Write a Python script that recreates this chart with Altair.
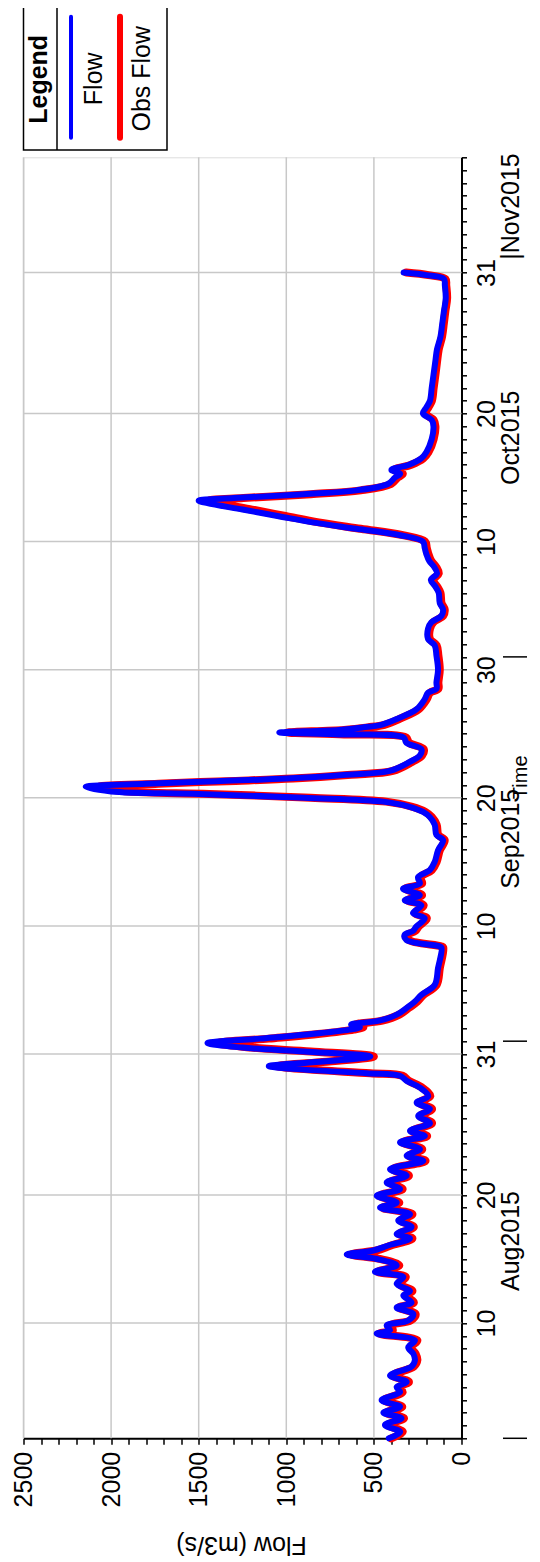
import altair as alt
import pandas as pd

START = "2015-08-01"

# days since 2015-08-01 00:00
days = [0.0, 0.5, 1.04, 1.56, 2.0, 2.46, 2.98, 3.6, 4.0, 4.4, 4.9, 5.6, 6.1, 6.6, 7.1, 7.65,
        8.17, 8.43, 8.8, 9.2, 9.7, 10.2, 10.6, 11.15, 11.5, 12.06, 12.6, 13.0, 13.5, 14.0,
        14.35, 14.66, 15.05, 15.6, 15.95, 16.5, 17.0, 17.5, 18.0, 18.4, 18.94, 19.45, 19.97,
        20.5, 21.0, 21.66, 22.05, 22.57, 23.1, 23.6, 24.0, 24.6, 25.16, 25.7, 26.2, 26.7,
        27.37, 27.9, 28.3, 28.5, 28.8, 29.05, 29.35, 29.8, 30.2, 30.5, 30.85, 31.2, 31.5,
        31.9, 32.1, 32.3, 32.6, 33.07, 33.6, 34.1, 34.6, 35.4, 36.7, 38.3, 38.4, 38.9, 39.3,
        39.6, 39.95, 40.6, 41.0, 41.6, 42.0, 42.4, 42.9, 43.3, 43.8, 44.35, 45.0, 45.9, 46.7,
        47.1, 47.9, 48.5, 48.9, 49.3, 49.7, 50.0, 50.3, 50.5, 50.85, 51.1, 51.3, 51.5, 51.8,
        52.1, 52.8, 53.3, 53.8, 54.3, 54.7, 54.95, 55.1, 55.3, 55.5, 55.7, 56.2, 56.9, 57.7,
        58.2, 58.5, 59.0, 60.0, 61.1, 61.9, 62.4, 63.2, 63.7, 64.2, 64.7, 65.2, 66.0, 66.5,
        67.0, 67.5, 68.0, 68.5, 69.0, 69.5, 70.0, 70.5, 71.0, 71.5, 72.0, 72.5, 73.0, 73.2,
        73.4, 73.7, 74.0, 74.5, 75.0, 75.3, 75.6, 76.0, 76.5, 77.0, 78.0, 79.0, 79.5, 80.0,
        80.5, 81.0, 82.0, 83.0, 84.0, 85.0, 86.0, 87.0, 88.0, 89.0, 90.0, 90.5, 90.8, 91.0]

flow = [415, 350, 437, 342, 446, 351, 456, 351, 370, 313, 408, 285, 266, 275, 304, 266,
        484, 408, 427, 304, 275, 370, 285, 332, 294, 370, 332, 494, 370, 484,
        655, 503, 418, 294, 370, 285, 361, 294, 465, 370, 484, 351, 427,
        313, 408, 218, 313, 237, 351, 209, 294, 180, 247, 180, 256, 190,
        237, 313, 351, 541, 921, 1100, 850, 520, 900, 1250, 1450, 1150, 900,
        640, 580, 630, 470, 370, 313, 266, 230, 153, 134, 114, 126, 315, 325,
        277, 258, 210, 277, 229, 324, 238, 334, 238, 248, 181, 153, 134, 105,
        143, 153, 181, 219, 296, 448, 900, 1500, 2000, 2145, 1800, 1400, 1000, 658,
        410, 296, 238, 229, 315, 330, 700, 1040, 700, 560, 458, 362, 258, 210,
        191, 143, 143, 134, 143, 153, 191, 191, 172, 115, 105, 124, 130, 150,
        175, 140, 155, 185, 200, 210, 220, 350, 600, 850, 1050, 1250, 1450, 1500,
        1300, 900, 600, 420, 380, 350, 400, 300, 230, 200, 170, 160, 170, 220,
        200, 180, 170, 160, 150, 140, 120, 110, 100, 90, 95, 100, 200, 330]

obs_flow = [400, 335, 420, 328, 430, 338, 440, 336, 355, 300, 392, 272, 252, 262, 290, 252,
            468, 392, 410, 290, 262, 355, 272, 318, 280, 355, 318, 478, 355, 468,
            630, 486, 402, 280, 355, 272, 346, 280, 450, 355, 468, 336, 410,
            300, 392, 205, 300, 224, 336, 196, 280, 168, 234, 168, 242, 178,
            224, 300, 336, 520, 880, 1050, 810, 500, 860, 1200, 1390, 1100, 860,
            615, 560, 605, 452, 355, 300, 252, 218, 142, 124, 104, 115, 300, 310,
            264, 245, 198, 264, 216, 310, 225, 320, 225, 235, 170, 142, 124, 96,
            132, 142, 170, 206, 282, 430, 860, 1440, 1920, 2070, 1730, 1340, 960, 630,
            392, 282, 225, 216, 300, 315, 670, 995, 670, 535, 440, 347, 245, 198,
            180, 132, 132, 124, 132, 142, 180, 180, 161, 105, 96, 114, 120, 139,
            163, 130, 144, 173, 188, 198, 208, 335, 575, 815, 1005, 1195, 1390, 1440,
            1245, 860, 575, 402, 364, 335, 383, 287, 218, 188, 159, 149, 159, 207,
            188, 169, 159, 149, 140, 130, 111, 101, 92, 82, 87, 92, 188, 315]

series_names = ["Flow", "Obs Flow"]
series_colors = ["#0000ff", "#ff0000"]

flow_ticks = list(range(0, 2501, 100))
flow_grid = [500, 1000, 1500, 2000, 2500]
grid_dates = ["2015-08-10", "2015-08-20", "2015-08-31", "2015-09-10", "2015-09-20",
              "2015-09-30", "2015-10-10", "2015-10-20", "2015-10-31"]
month_starts = ["2015-08-01", "2015-09-01", "2015-10-01"]
month_labels = ["Aug2015", "Sep2015", "Oct2015"]
month_label_days = [15.4, 46.8, 78.1]
next_month_label = "|Nov2015"
next_month_start = "2015-11-01"

FONT = "Liberation Sans"
W, H = 438, 1281

t0 = pd.Timestamp(START)
times = t0 + pd.to_timedelta(days, unit="D")
df_flow = pd.DataFrame({"t": times, "d": days, "v": flow})
df_obs = pd.DataFrame({"t": times, "d": days, "v": obs_flow})

time_scale = alt.Scale(domain=[alt.DateTime(year=2015, month=8, date=1),
                               alt.DateTime(year=2015, month=11, date=9)], nice=False)
flow_scale = alt.Scale(domain=[0, 2500], reverse=True, nice=False)

tick_days = pd.date_range("2015-08-01", "2015-11-09", freq="D")
tick_values = [alt.DateTime(year=d.year, month=d.month, date=d.day) for d in tick_days]

time_label_expr = ("(date(datum.value) == 10 || date(datum.value) == 20 || "
                   "(month(datum.value) == 7 && date(datum.value) == 31) || "
                   "(month(datum.value) == 8 && date(datum.value) == 30) || "
                   "(month(datum.value) == 9 && date(datum.value) == 31)) ? "
                   "timeFormat(datum.value, '%d') : ''")

time_axis = alt.Axis(orient="right", values=tick_values, labelExpr=time_label_expr,
                     grid=False, title=None, labelAngle=270, labelAlign="center",
                     labelBaseline="top", labelPadding=8, tickSize=5, labelOverlap=False,
                     labelFontSize=25, labelFont=FONT, labelColor="black",
                     domainColor="black", domainWidth=2, tickColor="black", tickWidth=1.5)
flow_axis = alt.Axis(orient="bottom", values=flow_ticks,
                     labelExpr="datum.value % 500 == 0 ? datum.label : ''",
                     format="d", grid=False, title=None, labelAngle=270, labelAlign="right",
                     labelBaseline="middle", labelPadding=7, tickSize=6, labelOverlap=False,
                     labelFontSize=25, labelFont=FONT, labelColor="black",
                     domainColor="black", domainWidth=2, tickColor="black", tickWidth=1.5)

X = alt.X("v:Q", scale=flow_scale, axis=flow_axis)
Y = alt.Y("t:T", scale=time_scale, axis=time_axis)

grid_x = alt.Chart(pd.DataFrame({"v": flow_grid})).mark_rule(
    color="#c8c8c8", strokeWidth=1.5).encode(x=X)

grid_y = alt.Chart(pd.DataFrame({"t": pd.to_datetime(grid_dates)})).mark_rule(
    color="#c8c8c8", strokeWidth=1.5).encode(y=Y)

obs_line = alt.Chart(df_obs).mark_line(
    color=series_colors[1], strokeWidth=8, strokeJoin="round", strokeCap="round",
    interpolate="catmull-rom").encode(x=X, y=Y, order="d:Q")

flow_line = alt.Chart(df_flow).mark_line(
    color=series_colors[0], strokeWidth=6, strokeJoin="round", strokeCap="round",
    interpolate="catmull-rom").encode(x=X, y=Y, order="d:Q")

month_marks = alt.Chart(pd.DataFrame({"t": pd.to_datetime(month_starts)})).mark_rule(
    color="black", strokeWidth=1.5).encode(
    y=Y, x=alt.value(W + 41.5), x2=alt.value(W + 65.5))

month_text = alt.Chart(pd.DataFrame({
    "t": t0 + pd.to_timedelta(month_label_days, unit="D"), "lab": month_labels})).mark_text(
    angle=270, align="center", baseline="middle", fontSize=25, font=FONT, color="black").encode(
    y=Y, x=alt.value(W + 50), text="lab:N")

nov_text = alt.Chart(pd.DataFrame({"t": pd.to_datetime([next_month_start]),
                                   "lab": [next_month_label]})).mark_text(
    angle=270, align="left", baseline="middle", fontSize=25, font=FONT, color="black").encode(
    y=Y, x=alt.value(W + 50), text="lab:N")

time_title = alt.Chart(pd.DataFrame({"lab": ["Time"]})).mark_text(
    angle=270, align="center", baseline="middle", fontSize=20, font=FONT, color="black").encode(
    x=alt.value(W + 60), y=alt.value(620), text="lab:N")

flow_title = alt.Chart(pd.DataFrame({"lab": ["Flow (m3/s)"]})).mark_text(
    angle=180, align="center", baseline="middle", fontSize=25, font=FONT, color="black").encode(
    x=alt.value(218), y=alt.value(H + 107), text="lab:N")

# legend (drawn rotated like the rest of the figure)
leg_box = alt.Chart(pd.DataFrame({"a": [0]})).mark_rect(
    fill="white", stroke="black", strokeWidth=1.5).encode(
    x=alt.value(0), x2=alt.value(143.5), y=alt.value(-151.3), y2=alt.value(-7.3))
leg_div = alt.Chart(pd.DataFrame({"a": [0]})).mark_rule(
    color="black", strokeWidth=1.5).encode(
    x=alt.value(33.5), y=alt.value(-151.3), y2=alt.value(-7.3))
leg_title = alt.Chart(pd.DataFrame({"lab": ["Legend"]})).mark_text(
    angle=270, align="center", baseline="middle", fontSize=25, fontWeight="bold",
    font=FONT, color="black").encode(x=alt.value(15), y=alt.value(-78), text="lab:N")
leg_lines = alt.Chart(pd.DataFrame({"s": series_names, "x": [47.5, 96.5],
                                    "w": [4, 6]})).mark_rule(strokeCap="round").encode(
    x=alt.X("x:Q", scale=None), y=alt.value(-140.5), y2=alt.value(-19.5),
    color=alt.Color("s:N", scale=alt.Scale(domain=series_names, range=series_colors),
                    legend=None),
    strokeWidth=alt.StrokeWidth("w:Q", scale=None, legend=None))
leg_text = alt.Chart(pd.DataFrame({"s": series_names, "x": [70, 118]})).mark_text(
    angle=270, align="center", baseline="middle", fontSize=25, font=FONT,
    color="black").encode(x=alt.X("x:Q", scale=None), y=alt.value(-78.5), text="s:N")

chart = alt.layer(
    grid_x, grid_y, obs_line, flow_line, month_marks, month_text, nov_text,
    time_title, flow_title, leg_box, leg_div, leg_title, leg_lines, leg_text
).properties(
    width=W, height=H,
    autosize=alt.AutoSizeParams(type="none"),
    padding={"left": 15.5, "top": 149.3, "right": 70.5, "bottom": 123}
).configure_view(stroke=None).configure(background="white")

chart.save("out.html", embed_options={"renderer": "svg", "actions": False})
